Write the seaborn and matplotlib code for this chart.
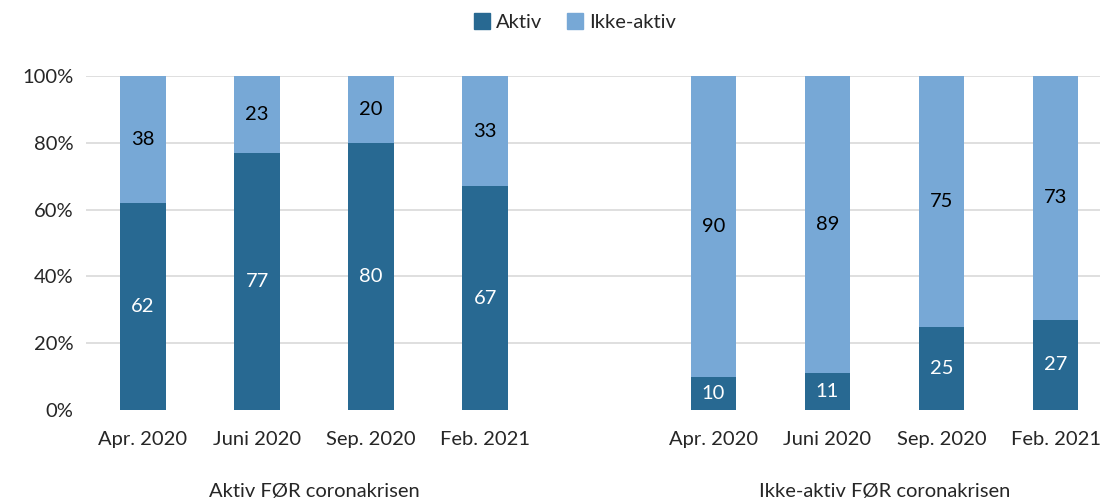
import matplotlib.pyplot as plt
import matplotlib.patches as mpatches
import matplotlib.transforms as mtransforms
import pandas as pd
import seaborn as sns

months = ["Apr. 2020", "Juni 2020", "Sep. 2020", "Feb. 2021"]
groups = ["Aktiv FØR coronakrisen", "Ikke-aktiv FØR coronakrisen"]
aktiv = [62, 77, 80, 67, 10, 11, 25, 27]
ikke_aktiv = [38, 23, 20, 33, 90, 89, 75, 73]

DARK = "#286992"
LIGHT = "#77A8D6"
FS = 14.5

# 4 months per group, one empty slot between the groups
rows = []
for g, grp in enumerate(groups):
    for i, m in enumerate(months):
        k = g * len(months) + i
        rows.append({"pos": g * (len(months) + 1) + i, "month": m, "group": grp,
                     "aktiv": aktiv[k], "ikke": ikke_aktiv[k],
                     "total": aktiv[k] + ikke_aktiv[k]})
df = pd.DataFrame(rows)

sns.set_theme(style="white")
plt.rcParams["font.family"] = ["Lato", "DejaVu Sans"]

fig = plt.figure(figsize=(11, 4.99), dpi=100)
ax = fig.add_axes([86 / 1100, 1 - 410 / 499, 1 - 86 / 1100, (410 - 76) / 499])

# light bar = full stack, dark bar drawn on top
sns.barplot(data=df, x="pos", y="total", color=LIGHT, native_scale=True,
            width=0.4, saturation=1, linewidth=0, ax=ax)
sns.barplot(data=df, x="pos", y="aktiv", color=DARK, native_scale=True,
            width=0.4, saturation=1, linewidth=0, ax=ax)

light_bars, dark_bars = ax.containers[0], ax.containers[1]
for bar, d, v in zip(light_bars, df["aktiv"], df["ikke"]):
    ax.text(bar.get_x() + bar.get_width() / 2, d + v / 2, str(v),
            ha="center", va="center", fontsize=FS, color="black")
ax.bar_label(dark_bars, labels=[str(v) for v in df["aktiv"]],
             label_type="center", fontsize=FS, color="white")

ax.set_ylim(0, 100)
ax.set_xlim(-0.5, 8.39)
ax.set_yticks([0, 20, 40, 60, 80, 100])
ax.set_yticklabels([f"{t}%" for t in [0, 20, 40, 60, 80, 100]], fontsize=FS)
ax.set_xticks(df["pos"])
ax.set_xticklabels(df["month"], fontsize=FS)
ax.tick_params(axis="x", length=0, pad=15)
ax.tick_params(axis="y", length=0, pad=9)
for y in [20, 40, 60, 80, 100]:
    ax.axhline(y, color="#d9d9d9", lw=1.2, zorder=0)
for s in ax.spines.values():
    s.set_visible(False)
ax.set_xlabel("")
ax.set_ylabel("")

trans = mtransforms.blended_transform_factory(ax.transData, fig.transFigure)
for g, grp in enumerate(groups):
    center = g * (len(months) + 1) + (len(months) - 1) / 2
    ax.text(center, 1 - 491 / 499, grp, transform=trans, ha="center",
            va="center", fontsize=FS)

handles = [mpatches.Patch(color=DARK, label="Aktiv"),
           mpatches.Patch(color=LIGHT, label="Ikke-aktiv")]
fig.legend(handles=handles, loc="center", bbox_to_anchor=(575 / 1100, 1 - 22 / 499),
           ncol=2, frameon=False, fontsize=FS, handlelength=0.8,
           handleheight=0.8, handletextpad=0.3, columnspacing=1.2)

fig.savefig("out.png", dpi=100)
